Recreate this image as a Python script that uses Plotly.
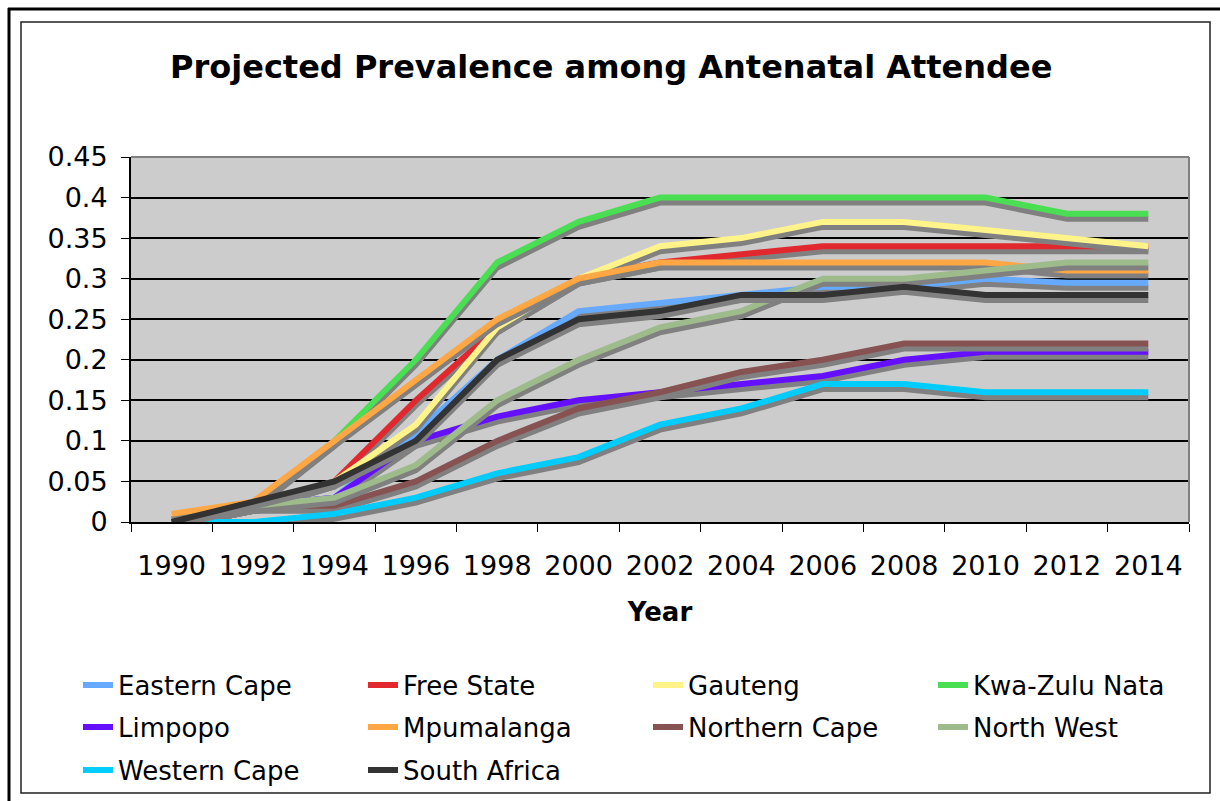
"""Projected HIV prevalence among antenatal attendees, Excel-style line chart."""

import plotly.graph_objects as go

YEARS = ["1990", "1992", "1994", "1996", "1998", "2000", "2002",
         "2004", "2006", "2008", "2010", "2012", "2014"]
Y_TICKS = [0, 0.05, 0.1, 0.15, 0.2, 0.25, 0.3, 0.35, 0.4, 0.45]
Y_TICK_LABELS = ["0", "0.05", "0.1", "0.15", "0.2", "0.25", "0.3", "0.35", "0.4", "0.45"]

eastern_cape = [0, 0.02, 0.03, 0.11, 0.2, 0.26, 0.27, 0.28, 0.29, 0.29, 0.3, 0.295, 0.295]
free_state = [0, 0.02, 0.05, 0.15, 0.24, 0.3, 0.32, 0.33, 0.34, 0.34, 0.34, 0.34, 0.34]
gauteng = [0, 0.02, 0.05, 0.12, 0.24, 0.3, 0.34, 0.35, 0.37, 0.37, 0.36, 0.35, 0.34]
kwazulu_natal = [0, 0.02, 0.1, 0.2, 0.32, 0.37, 0.4, 0.4, 0.4, 0.4, 0.4, 0.38, 0.38]
limpopo = [0, 0.02, 0.03, 0.1, 0.13, 0.15, 0.16, 0.17, 0.18, 0.2, 0.21, 0.21, 0.21]
mpumalanga = [0.01, 0.025, 0.1, 0.175, 0.25, 0.3, 0.32, 0.32, 0.32, 0.32, 0.32, 0.31, 0.31]
northern_cape = [0, 0.02, 0.02, 0.05, 0.1, 0.14, 0.16, 0.185, 0.2, 0.22, 0.22, 0.22, 0.22]
north_west = [0, 0.02, 0.03, 0.07, 0.15, 0.2, 0.24, 0.26, 0.3, 0.3, 0.31, 0.32, 0.32]
western_cape = [0, 0, 0.01, 0.03, 0.06, 0.08, 0.12, 0.14, 0.17, 0.17, 0.16, 0.16, 0.16]
south_africa = [0, 0.025, 0.05, 0.1, 0.2, 0.25, 0.26, 0.28, 0.28, 0.29, 0.28, 0.28, 0.28]

# (name, values, colour, legend slot)
SERIES = [
    ("Eastern Cape", eastern_cape, "#66AAFF", "legend"),
    ("Free State", free_state, "#E0282E", "legend"),
    ("Gauteng", gauteng, "#FFF38A", "legend"),
    ("Kwa-Zulu Nata", kwazulu_natal, "#4ADE52", "legend4"),
    ("Limpopo", limpopo, "#6410FF", "legend2"),
    ("Mpumalanga", mpumalanga, "#FFA645", "legend2"),
    ("Northern Cape", northern_cape, "#875252", "legend2"),
    ("North West", north_west, "#9DBB8B", "legend5"),
    ("Western Cape", western_cape, "#00CCFF", "legend3"),
    ("South Africa", south_africa, "#333333", "legend3"),
]

W, H = 1220, 801
L, R, T, B = 131, 31, 157, 279
PW, PH = W - L - R, H - T - B
Y_RANGE = [0, 0.45]
# shadow drawn a few pixels under each line, converted to data units
SHADOW = 5 * (Y_RANGE[1] - Y_RANGE[0]) / PH

FONT = "DejaVu Sans, Verdana, sans-serif"
LEG_X0, LEG_COL = 78, 285
ROW_Y = [685, 727, 770]


def px_x(x):
    return (x - L) / PW


def px_y(y):
    return (H - B - y) / PH


fig = go.Figure()
for name, vals, color, leg in SERIES:
    fig.add_trace(go.Scatter(
        x=YEARS, y=[v - SHADOW for v in vals], mode="lines",
        line=dict(color="#808080", width=6), showlegend=False, hoverinfo="skip",
    ))
    fig.add_trace(go.Scatter(
        x=YEARS, y=vals, mode="lines", name=name, legend=leg,
        line=dict(color=color, width=6),
    ))


def legend_box(col, row):
    return dict(
        orientation="h", xref="container", yref="container",
        x=(LEG_X0 + col * LEG_COL) / W, xanchor="left",
        y=1 - ROW_Y[row] / H, yanchor="middle",
        entrywidth=LEG_COL - 45, entrywidthmode="pixels",
        font=dict(size=26), bgcolor="rgba(0,0,0,0)",
    )


fig.update_layout(
    width=W, height=H,
    margin=dict(l=L, r=R, t=T, b=B),
    paper_bgcolor="white",
    plot_bgcolor="#CCCCCC",
    font=dict(family=FONT, color="black", size=24),
    title=dict(
        text="<b>Projected Prevalence among Antenatal Attendee</b>",
        x=170 / W, xanchor="left", y=1 - 67 / H, yanchor="middle",
        font=dict(size=32),
    ),
    xaxis=dict(
        type="category", range=[-0.5, len(YEARS) - 0.5],
        tickson="boundaries", ticks="outside", ticklen=8,
        tickcolor="black", linecolor="black", linewidth=2, showline=True,
        showgrid=False, tickfont=dict(size=27), ticklabelstandoff=19,
        automargin=False,
        title=dict(text="<b>Year</b>", font=dict(size=26), standoff=22),
    ),
    yaxis=dict(
        range=Y_RANGE, tickvals=Y_TICKS, ticktext=Y_TICK_LABELS,
        ticks="outside", ticklen=8, tickcolor="black",
        showline=True, linecolor="black", linewidth=2,
        gridcolor="black", gridwidth=1.5, zeroline=False,
        tickfont=dict(size=27), ticklabelstandoff=8, automargin=False,
    ),
    legend=legend_box(0, 0),
    legend2=legend_box(0, 1),
    legend3=legend_box(0, 2),
    legend4=legend_box(3, 0),
    legend5=legend_box(3, 1),
    showlegend=True,
    shapes=[
        # plot area top / right border
        dict(type="line", xref="paper", yref="paper", x0=0, x1=1, y0=1, y1=1,
             line=dict(color="#808080", width=2)),
        dict(type="line", xref="paper", yref="paper", x0=1, x1=1, y0=0, y1=1,
             line=dict(color="#808080", width=2)),
        # chart frame
        dict(type="rect", xref="paper", yref="paper",
             x0=px_x(21), x1=px_x(1210), y0=px_y(793), y1=px_y(22),
             line=dict(color="#222222", width=1.5), layer="below"),
        # outer page frame
        dict(type="line", xref="paper", yref="paper",
             x0=px_x(8), x1=px_x(W), y0=px_y(9), y1=px_y(9),
             line=dict(color="black", width=3)),
        dict(type="line", xref="paper", yref="paper",
             x0=px_x(9), x1=px_x(9), y0=px_y(H), y1=px_y(8),
             line=dict(color="black", width=3)),
    ],
)

fig.write_html("out.html", config={"displayModeBar": False},
               post_script="document.body.style.margin='0px';")
